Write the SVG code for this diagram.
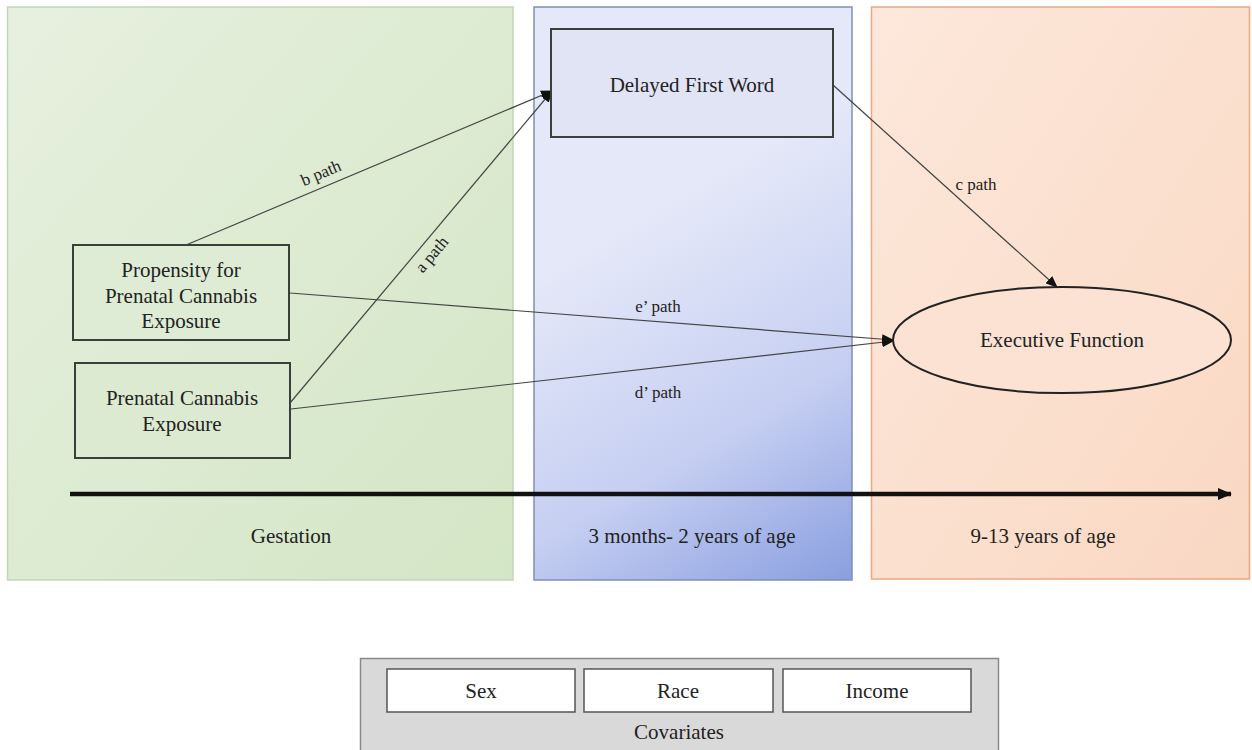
<svg xmlns="http://www.w3.org/2000/svg" width="1252" height="750" viewBox="0 0 1252 750">
<style>
text{font-family:"Liberation Serif","Times New Roman",serif;fill:#222;}
.t{font-size:21px;text-anchor:middle;}
.lbl{font-size:17px;text-anchor:middle;}
.box{stroke:#3a3f3a;stroke-width:2;}
.conn{stroke:#444;stroke-width:1.2;fill:none;}
.cov{fill:#fff;stroke:#555;stroke-width:1.5;}
</style>
<defs>
<linearGradient id="gGreen" x1="0" y1="0" x2="1" y2="1">
<stop offset="0" stop-color="#e7f0df"/>
<stop offset="1" stop-color="#d3e6c5"/>
</linearGradient>
<linearGradient id="gBlue" gradientUnits="userSpaceOnUse" x1="640" y1="220" x2="850" y2="580">
<stop offset="0" stop-color="#e4e8f8"/>
<stop offset="0.55" stop-color="#c6cff2"/>
<stop offset="1" stop-color="#8a9fe0"/>
</linearGradient>
<linearGradient id="gOrange" x1="0" y1="0" x2="1" y2="1">
<stop offset="0" stop-color="#fde8db"/>
<stop offset="1" stop-color="#f9d8c3"/>
</linearGradient>
<marker id="arr" markerWidth="12" markerHeight="10" refX="11" refY="5" orient="auto" markerUnits="userSpaceOnUse">
<path d="M0,0 L12,5 L0,10 Z" fill="#111"/>
</marker>
<marker id="arrBig" markerWidth="14" markerHeight="12" refX="13" refY="6" orient="auto" markerUnits="userSpaceOnUse">
<path d="M0,0 L14,6 L0,12 Z" fill="#111"/>
</marker>
</defs>

<g id="panel-gestation">
<rect x="7.5" y="7" width="505.5" height="573" fill="url(#gGreen)" stroke="#c3d5b8" stroke-width="1.5"/>
<text class="t" x="291" y="543">Gestation</text>
</g>
<g id="panel-infancy">
<rect x="534" y="7" width="318" height="573" fill="url(#gBlue)" stroke="#7f8fb5" stroke-width="1.5"/>
<text class="t" x="692" y="543">3 months- 2 years of age</text>
</g>
<g id="panel-adolescence">
<rect x="871.5" y="7" width="378" height="572" fill="url(#gOrange)" stroke="#efa57d" stroke-width="1.5"/>
<text class="t" x="1043" y="543">9-13 years of age</text>
</g>

<g id="timeline">
<line x1="70" y1="494" x2="1231" y2="494" stroke="#111" stroke-width="4.5" marker-end="url(#arrBig)"/>
</g>

<g id="connectors">
<line class="conn" x1="186" y1="245" x2="552" y2="91" marker-end="url(#arr)"/>
<line class="conn" x1="290" y1="403" x2="552" y2="91" marker-end="url(#arr)"/>
<line class="conn" x1="833" y1="85" x2="1057" y2="287" marker-end="url(#arr)"/>
<line class="conn" x1="290" y1="293" x2="893" y2="340" marker-end="url(#arr)"/>
<line class="conn" x1="291" y1="409" x2="893" y2="341" marker-end="url(#arr)"/>
<text class="lbl" transform="translate(323,178) rotate(-22.8)">b path</text>
<text class="lbl" transform="translate(436,258) rotate(-50)">a path</text>
<text class="lbl" x="976" y="190">c path</text>
<text class="lbl" x="658" y="312">e’ path</text>
<text class="lbl" x="658" y="398">d’ path</text>
</g>

<g id="node-delayed">
<rect class="box" x="551" y="29" width="282" height="108" fill="#e1e4f5"/>
<text class="t" x="692" y="92">Delayed First Word</text>
</g>
<g id="node-propensity">
<rect class="box" x="73" y="245" width="216" height="95" fill="#dfecd5"/>
<text class="t" x="181" y="277">Propensity for</text>
<text class="t" x="181" y="303">Prenatal Cannabis</text>
<text class="t" x="181" y="328">Exposure</text>
</g>
<g id="node-prenatal">
<rect class="box" x="75" y="363" width="215" height="95" fill="#dcead1"/>
<text class="t" x="182" y="405">Prenatal Cannabis</text>
<text class="t" x="182" y="431">Exposure</text>
</g>
<g id="node-executive">
<ellipse cx="1062" cy="340" rx="169" ry="53" fill="#fbe2d2" stroke="#222" stroke-width="2"/>
<text class="t" x="1062" y="347">Executive Function</text>
</g>

<g id="covariates">
<rect x="360.5" y="658.5" width="638" height="95" fill="#d9d9d9" stroke="#8a8a8a" stroke-width="1.5"/>
<g id="cov-sex">
<rect class="cov" x="387" y="669" width="188" height="43"/>
<text class="t" x="481" y="698">Sex</text>
</g>
<g id="cov-race">
<rect class="cov" x="584" y="669" width="189" height="43"/>
<text class="t" x="678" y="698">Race</text>
</g>
<g id="cov-income">
<rect class="cov" x="783" y="669" width="188" height="43"/>
<text class="t" x="877" y="698">Income</text>
</g>
<text class="t" x="679" y="739">Covariates</text>
</g>
</svg>
